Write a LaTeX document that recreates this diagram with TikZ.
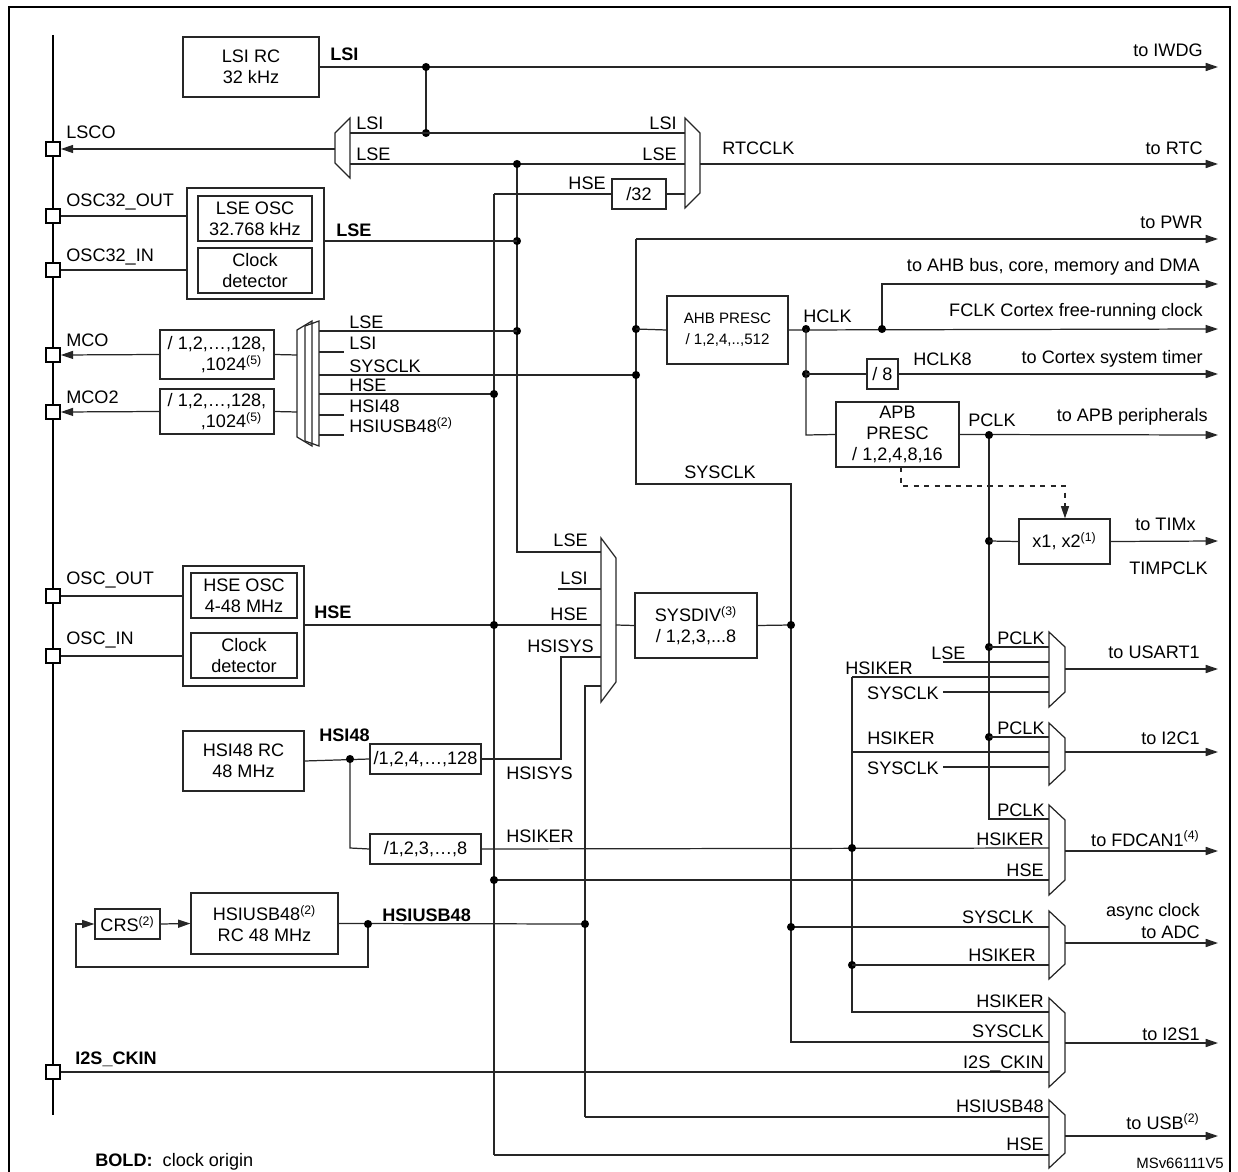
\documentclass[tikz,border=0pt]{standalone}
\usepackage{fontspec}
\setmainfont{Liberation Sans}
\usetikzlibrary{arrows.meta,positioning,calc}

% box from corner (x1,y1) to (x2,y2), in pixels
\newcommand{\blk}[6]{\node[blk, minimum width={(#4-#2)*0.02cm}, minimum height={(#5-#3)*0.02cm}] (#1) at ({(#2+#4)/2},{(#3+#5)/2}) {#6};}
% mux pointing right: left, right, top, bottom, inset
\newcommand{\muxr}[5]{\draw[wire] (#1,#3) -- (#2,#3+#5) -- (#2,#4-#5) -- (#1,#4) -- cycle;}
\newcommand{\jdot}[1]{\fill #1 circle[radius=2.3pt];}
\newcommand{\sups}[1]{\textsuperscript{\scriptsize(#1)}}

\begin{document}
\begin{tikzpicture}[
        x=0.02cm, y=-0.02cm,
        font=\fontsize{10.3}{12}\selectfont,
        wire/.style={line width=0.7pt, black!85},
        arr/.style={wire, -{Triangle[length=7pt,width=4.6pt]}},
        blk/.style={draw, line width=0.7pt, black!85, text=black, inner sep=0pt, align=center},
        pin/.style={draw, line width=1pt, fill=white, minimum size=0.28cm, inner sep=0pt},
        lbl/.style={inner sep=0pt, anchor=west},
        lble/.style={inner sep=0pt, anchor=base east},
        lblb/.style={inner sep=0pt, anchor=base west}
    ]
        \useasboundingbox (0,0) rectangle (1238,1172);
        \draw[line width=1.6pt] (9,1180) -- (9,7) -- (1230,7) -- (1230,1180);

        % Left pin bus
        \draw[line width=1.3pt] (53,35) -- (53,1115);

        % Oscillators and dividers
        \blk{lsirc}{183}{37}{319}{97}{LSI RC\\32 kHz}
        \blk{lseout}{187}{188}{324}{299}{}
        \blk{lseosc}{198}{196}{312}{241}{LSE OSC\\32.768 kHz}
        \blk{lsecd}{198}{248}{312}{293}{Clock\\detector}
        \blk{mcodiv}{160}{330}{274}{379}{/ 1,2,\ldots,128,\\\hspace*{1.6em},1024\sups{5}}
        \blk{mcotwodiv}{160}{389}{274}{434}{/ 1,2,\ldots,128,\\\hspace*{1.6em},1024\sups{5}}
        \blk{divtt}{612}{179}{666}{209}{/32}
        \blk{ahb}{667}{296}{788}{364}{\fontsize{8.6}{10}\selectfont AHB PRESC\\\fontsize{8.6}{10}\selectfont / 1,2,4,..,512}
        \blk{diveight}{867}{359}{898}{389}{/ 8}
        \blk{apb}{836}{402}{959}{467}{APB\\PRESC\\/ 1,2,4,8,16}
        \blk{timx}{1019}{519}{1110}{564}{x1, x2\sups{1}}
        \blk{hseout}{183}{566}{304}{686}{}
        \blk{hseosc}{191}{573}{297}{618}{HSE OSC\\4-48 MHz}
        \blk{hsecd}{191}{633}{297}{678}{Clock\\detector}
        \blk{sysdiv}{635}{593}{757}{658}{SYSDIV\sups{3}\\/ 1,2,3,...8}
        \blk{hsirc}{183}{731}{304}{791}{HSI48 RC\\48 MHz}
        \blk{hsisysdiv}{370}{744}{481}{774}{/1,2,4,\ldots,128}
        \blk{hsikerdiv}{370}{834}{481}{864}{/1,2,3,\ldots,8}
        \blk{crs}{95}{909}{160}{939}{CRS\sups{2}}
        \blk{hsiusb}{191}{893}{338}{954}{HSIUSB48\sups{2}\\RC 48 MHz}

        % Pins
        \foreach \nm/\yy in {lsco/149, oscto/216, oscti/270, mco/355, mcotwo/412, oscout/596, oscin/656, iis/1072}
            \node[pin] (p\nm) at (53,\yy) {};
        \node[lbl] at (66,132) {LSCO};
        \node[lbl] at (66,202) {OSC32\_OUT};
        \node[lbl] at (66,257) {OSC32\_IN};
        \node[lbl] at (66,340) {MCO};
        \node[lbl] at (66,397) {MCO2};
        \node[lbl] at (66,580) {OSC\_OUT};
        \node[lbl] at (66,640) {OSC\_IN};
        \node[lbl, font=\fontsize{10.3}{12}\selectfont\bfseries] at (75,1059) {I2S\_CKIN};

        % Muxes
        \draw[wire] (350,118) -- (335,133) -- (335,163) -- (350,178) -- cycle;
        \muxr{685}{700}{118}{208}{15}
        \draw[wire] (312,321) -- (297,330) -- (297,437) -- (312,446) -- cycle;
        \draw[wire] (319,321) -- (305,326) -- (305,441) -- (319,446) -- cycle;
        \muxr{601}{616}{538}{702}{20}
        \muxr{1049}{1065}{632}{707}{15}
        \muxr{1049}{1065}{723}{785}{15}
        \muxr{1049}{1065}{805}{895}{15}
        \muxr{1049}{1065}{911}{979}{15}
        \muxr{1049}{1065}{998}{1087}{15}
        \muxr{1049}{1065}{1100}{1168}{15}

        % LSI / LSE / RTC
        \draw[arr] (lsirc.east) -- (1218,67);
        \node[lbl, font=\fontsize{10.3}{12}\selectfont\bfseries] at (330,54) {LSI};
        \node[anchor=east, inner sep=0pt] at (1203,50) {to IWDG};
        \draw[wire] (426,67) -- (426,133);
        \jdot{(426,67)} \jdot{(426,133)}
        \draw[wire] (350,133) -- (685,133);
        \draw[wire] (350,164) -- (685,164);
        \node[lbl] at (356,123) {LSI};
        \node[lbl] at (356,154) {LSE};
        \node[anchor=east, inner sep=0pt] at (677,123) {LSI};
        \node[anchor=east, inner sep=0pt] at (677,154) {LSE};
        \draw[arr] (335,149) -- (plsco.east);
        \draw[arr] (700,164) -- (1218,164);
        \node[lbl] at (722,148) {RTCCLK};
        \node[anchor=east, inner sep=0pt] at (1203,148) {to RTC};
        \draw[wire] (494,194) -- (divtt.west);
        \draw[wire] (divtt.east) -- (685,194);
        \node[anchor=east, inner sep=0pt] at (606,183) {HSE};
        \draw[wire] (517,164) -- (517,552) -- (601,552);
        \jdot{(517,164)} \jdot{(517,241)} \jdot{(517,331)}
        \draw[wire] (poscto.east) -- (187,216);
        \draw[wire] (poscti.east) -- (187,270);
        \draw[wire] (324,241) -- (517,241);
        \node[lbl, font=\fontsize{10.3}{12}\selectfont\bfseries] at (336,230) {LSE};

        % MCO outputs
        \draw[arr] (mcodiv.west) -- (pmco.east);
        \draw[arr] (mcotwodiv.west) -- (pmcotwo.east);
        \draw[wire] (mcodiv.east) -- (297,355);
        \draw[wire] (mcotwodiv.east) -- (297,412);
        \draw[wire] (319,331) -- (517,331);
        \draw[wire] (319,352) -- (344,352);
        \draw[wire] (319,375) -- (636,375);
        \draw[wire] (319,394) -- (494,394);
        \draw[wire] (319,415) -- (344,415);
        \draw[wire] (319,435) -- (344,435);
        \foreach \yy/\tx in {329/LSE, 350/LSI, 373/SYSCLK, 392/HSE, 413/HSI48, 433/HSIUSB48\sups{2}}
            \node[lblb] at (349,\yy) {\tx};

        % SYSCLK and AHB
        \draw[arr] (636,239) -- (1218,239);
        \node[anchor=east, inner sep=0pt] at (1203,222) {to PWR};
        \draw[wire] (636,239) -- (636,484) -- (791,484) -- (791,1042) -- (1049,1042);
        \node at (720,472) {SYSCLK};
        \jdot{(636,329)} \jdot{(636,375)}
        \draw[wire] (636,329) -- (ahb.west);
        \draw[arr] (ahb.east) -- (1218,329);
        \node[lbl] at (803,316) {HCLK};
        \node[anchor=east, inner sep=0pt] at (1203,312) {FCLK Cortex free-running clock};
        \draw[arr] (882,329) -- (882,284) -- (1218,284);
        \node[anchor=east, inner sep=0pt] at (1200,267) {to AHB bus, core, memory and DMA};
        \jdot{(806,329)} \jdot{(882,329)} \jdot{(806,374)}
        \draw[wire] (806,329) -- (806,435) -- (apb.west);
        \draw[wire] (806,374) -- (diveight.west);
        \draw[arr] (diveight.east) -- (1218,374);
        \node[lbl] at (913,359) {HCLK8};
        \node[anchor=east, inner sep=0pt] at (1203,359) {to Cortex system timer};

        % APB and timers
        \draw[arr] (apb.east) -- (1218,435);
        \node[lbl] at (968,420) {PCLK};
        \node[anchor=east, inner sep=0pt] at (1208,417) {to APB peripherals};
        \draw[wire, dashed, -{Triangle[length=7pt,width=4.6pt]}] (901,467) -- (901,486) -- (1065,486) -- (timx.north -| 1065,0);
        \draw[wire] (989,435) -- (989,819) -- (1049,819);
        \jdot{(989,435)} \jdot{(989,541)} \jdot{(989,647)} \jdot{(989,737)}
        \draw[wire] (989,541) -- (timx.west);
        \draw[arr] (timx.east) -- (1218,541);
        \node[lbl] at (1135,524) {to TIMx};
        \node[lbl] at (1129,568) {TIMPCLK};

        % USART1
        \draw[wire] (989,647) -- (1049,647);
        \draw[wire] (943,662) -- (1049,662);
        \draw[wire] (852,677) -- (1049,677);
        \draw[wire] (943,692) -- (1049,692);
        \node[lblb] at (997,644) {PCLK};
        \node[lblb] at (931,659) {LSE};
        \node[lblb] at (845,674) {HSIKER};
        \node[anchor=east, inner sep=0pt] at (939,693) {SYSCLK};
        \draw[arr] (1065,669) -- (1218,669);
        \node[lble] at (1200,658) {to USART1};

        % I2C1
        \draw[wire] (989,737) -- (1049,737);
        \draw[wire] (852,752) -- (1049,752);
        \draw[wire] (943,767) -- (1049,767);
        \node[lblb] at (997,734) {PCLK};
        \node[lblb] at (867,744) {HSIKER};
        \node[anchor=east, inner sep=0pt] at (939,768) {SYSCLK};
        \draw[arr] (1065,752) -- (1218,752);
        \node[lble] at (1200,744) {to I2C1};

        % FDCAN1
        \node[lblb] at (997,816) {PCLK};
        \draw[wire] (hsikerdiv.east) -- (1049,848);
        \node[lblb] at (506,842) {HSIKER};
        \node[lble] at (1044,845) {HSIKER};
        \draw[wire] (494,880) -- (1049,880);
        \node[lble] at (1044,876) {HSE};
        \draw[arr] (1065,851) -- (1218,851);
        \node[lble] at (1200,846) {to FDCAN1\sups{4}};
        \draw[wire] (852,677) -- (852,1012) -- (1049,1012);
        \jdot{(852,848)} \jdot{(852,965)}

        % ADC
        \draw[wire] (791,927) -- (1049,927);
        \draw[wire] (852,965) -- (1049,965);
        \jdot{(791,927)}
        \node[lble] at (1034,923) {SYSCLK};
        \node[lble] at (1036,961) {HSIKER};
        \draw[arr] (1065,943) -- (1218,943);
        \node[anchor=east, align=right, inner sep=0pt] at (1200,921) {async clock\\to ADC};

        % I2S1
        \node[lble] at (1044,1007) {HSIKER};
        \node[lble] at (1044,1037) {SYSCLK};
        \draw[wire] (piis.east) -- (1049,1072);
        \node[lble] at (1044,1068) {I2S\_CKIN};
        \draw[arr] (1065,1043) -- (1218,1043);
        \node[lble] at (1200,1040) {to I2S1};

        % USB
        \draw[wire] (585,1117) -- (1049,1117);
        \draw[wire] (494,1155) -- (1049,1155);
        \node[lble] at (1044,1112) {HSIUSB48};
        \node[lble] at (1044,1150) {HSE};
        \draw[arr] (1065,1136) -- (1218,1136);
        \node[lble] at (1200,1129) {to USB\sups{2}};

        % HSE
        \draw[wire] (poscout.east) -- (183,596);
        \draw[wire] (poscin.east) -- (183,656);
        \draw[wire] (304,625) -- (601,625);
        \node[lbl, font=\fontsize{10.3}{12}\selectfont\bfseries] at (314,612) {HSE};
        \draw[wire] (494,194) -- (494,1155);
        \jdot{(494,394)} \jdot{(494,625)} \jdot{(494,880)}

        % SYSCLK mux inputs
        \draw[wire] (558,589) -- (601,589);
        \node[lble] at (588,546) {LSE};
        \node[lble] at (588,584) {LSI};
        \node[lble] at (588,621) {HSE};
        \node[lble] at (594,652) {HSISYS};
        \draw[wire] (hsisysdiv.east) -- (561,759) -- (561,657) -- (601,657);
        \node[lbl] at (506,773) {HSISYS};
        \draw[wire] (585,1117) -- (585,686) -- (601,686);
        \draw[wire] (616,625) -- (sysdiv.west);
        \draw[wire] (sysdiv.east) -- (791,625);
        \jdot{(791,625)}

        % HSI48
        \draw[wire] (hsirc.east) -- (hsisysdiv.west);
        \draw[wire] (350,759) -- (350,848) -- (hsikerdiv.west);
        \jdot{(350,759)}
        \node[lbl, font=\fontsize{10.3}{12}\selectfont\bfseries] at (319,735) {HSI48};

        % HSIUSB48 with CRS loop
        \draw[arr] (crs.east) -- (hsiusb.west);
        \draw[wire] (hsiusb.east) -- (585,924);
        \draw[arr] (368,924) -- (368,967) -- (76,967) -- (76,924) -- (crs.west);
        \jdot{(368,924)} \jdot{(585,924)}
        \node[lbl, font=\fontsize{10.3}{12}\selectfont\bfseries] at (382,915) {HSIUSB48};

        % Notes
        \node[lbl] at (95,1162) {\textbf{BOLD:}\ \ clock origin};
        \node[lbl, font=\fontsize{8.5}{10}\selectfont] at (1136,1163) {MSv66111V5};
    \end{tikzpicture}
\end{document}
